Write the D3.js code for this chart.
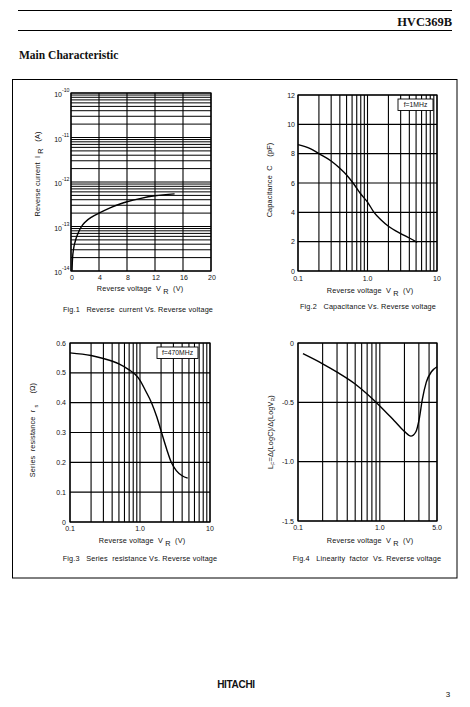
<!DOCTYPE html>
<html><head><meta charset="utf-8">
<script src="https://cdn.jsdelivr.net/npm/d3@7"></script>
<style>
html,body{margin:0;padding:0;background:#fff;}
svg{display:block;}
text{font-family:"Liberation Sans",Arial,sans-serif;fill:#111;}
</style></head>
<body>
<script>
// ---------- data ----------
const fig1V = [0.15, 0.2, 0.35, 0.6, 1.0, 1.5, 2.0, 3.0, 4.0, 5.5, 7.0, 8.0, 10.0, 12.0, 14.8];
const fig1I = [1e-14, 1.7e-14, 3.0e-14, 4.6e-14, 7.0e-14, 1.0e-13, 1.25e-13, 1.65e-13, 2.0e-13, 2.6e-13, 3.2e-13, 3.6e-13, 4.3e-13, 4.9e-13, 5.4e-13];
const fig1XTicks = [0, 4, 8, 12, 16, 20];
const fig1YTicks = [1e-14, 1e-13, 1e-12, 1e-11, 1e-10];
const fig1YExp = ["-14", "-13", "-12", "-11", "-10"];

const fig2V = [0.1, 0.15, 0.2, 0.3, 0.4, 0.5, 0.62, 0.8, 1.0, 1.24, 1.6, 2.0, 3.0, 4.0, 5.2];
const fig2C = [8.62, 8.35, 8.0, 7.5, 7.0, 6.55, 6.0, 5.25, 4.7, 4.0, 3.45, 3.05, 2.55, 2.25, 1.95];
const fig2YTicks = [0, 2, 4, 6, 8, 10, 12];
const fig2XTicks = [0.1, 1, 10];
const fig2XLabels = ["0.1", "1.0", "10"];

const fig3V = [0.1, 0.2, 0.3, 0.5, 0.7, 0.85, 1.0, 1.2, 1.46, 1.75, 2.03, 2.4, 2.8, 3.3, 4.0, 4.8];
const fig3R = [0.567, 0.558, 0.548, 0.53, 0.51, 0.495, 0.475, 0.44, 0.40, 0.35, 0.30, 0.245, 0.20, 0.172, 0.155, 0.147];
const fig3YTicks = [0, 0.1, 0.2, 0.3, 0.4, 0.5, 0.6];
const fig3XTicks = [0.1, 1, 10];
const fig3XLabels = ["0.1", "1.0", "10"];

const fig4V = [0.115, 0.2, 0.3, 0.5, 0.7, 1.0, 1.5, 2.0, 2.4, 2.75, 3.05, 3.3, 3.7, 4.3, 5.0];
const fig4LF = [-0.09, -0.175, -0.245, -0.345, -0.43, -0.53, -0.655, -0.745, -0.785, -0.75, -0.63, -0.48, -0.33, -0.24, -0.2];
const fig4YTicks = [0, -0.5, -1.0, -1.5];
const fig4YLabels = ["0", "-0.5", "-1.0", "-1.5"];
const fig4XTicks = [0.1, 1, 5];
const fig4XLabels = ["0.1", "1.0", "5.0"];

// ---------- page ----------
const W = 470, H = 707;
const svg = d3.select("body").append("svg").attr("width", W).attr("height", H);

svg.append("line").attr("x1", 18).attr("x2", 452).attr("y1", 10.5).attr("y2", 10.5).attr("stroke", "#000").attr("stroke-width", 1);
svg.append("line").attr("x1", 18).attr("x2", 452).attr("y1", 30.5).attr("y2", 30.5).attr("stroke", "#000").attr("stroke-width", 1);
svg.append("text").attr("x", 452).attr("y", 26).attr("text-anchor", "end")
  .style("font-family", "'Liberation Serif','Times New Roman',serif").style("font-weight", "bold").style("font-size", "12.5px").text("HVC369B");
svg.append("text").attr("x", 19).attr("y", 59)
  .style("font-family", "'Liberation Serif','Times New Roman',serif").style("font-weight", "bold").style("font-size", "11.5px").text("Main Characteristic");
svg.append("rect").attr("x", 12.5).attr("y", 79.5).attr("width", 444.5).attr("height", 498.5)
  .attr("fill", "none").attr("stroke", "#000").attr("stroke-width", 1);

svg.append("text").attr("x", 236).attr("y", 688).attr("text-anchor", "middle")
  .style("font-weight", "bold").style("font-size", "10px").style("letter-spacing", "-0.3px").text("HITACHI");
svg.append("text").attr("x", 448).attr("y", 697).attr("text-anchor", "middle").style("font-size", "8px").text("3");

const FS = "7.3px";
const TS = "7px";
const line = (g, x1, y1, x2, y2, w) => g.append("line").attr("x1", x1).attr("y1", y1).attr("x2", x2).attr("y2", y2)
  .attr("stroke", "#000").attr("stroke-width", w || 1);

function logMinor(lo, hi) {
  const out = [];
  for (let d = Math.floor(Math.log10(lo)); d <= Math.ceil(Math.log10(hi)); d++) {
    for (let m = 1; m <= 9; m++) {
      const v = m * Math.pow(10, d);
      if (v >= lo * 0.999 && v <= hi * 1.001) out.push(v);
    }
  }
  return out;
}

function frame(g, L, R, T, B) {
  g.append("rect").attr("x", L).attr("y", T).attr("width", R - L).attr("height", B - T)
    .attr("fill", "none").attr("stroke", "#000").attr("stroke-width", 1.2);
}

function xTitle(g, cx, y) {
  const t = g.append("text").attr("x", cx).attr("y", y).attr("text-anchor", "middle").style("font-size", FS)
    .attr("xml:space", "preserve").style("letter-spacing", "0.15px");
  t.append("tspan").text("Reverse voltage  V ");
  t.append("tspan").attr("dy", 2.5).text("R");
  t.append("tspan").attr("dy", -2.5).text("  (V)");
}
function caption(g, cx, y, s) {
  g.append("text").attr("x", cx).attr("y", y).attr("text-anchor", "middle").style("font-size", FS)
    .style("letter-spacing", "0.15px").attr("xml:space", "preserve").text(s);
}
function yTitle(g, x, cy, parts) {
  const t = g.append("text").attr("transform", `translate(${x},${cy}) rotate(-90)`).attr("text-anchor", "middle").style("font-size", FS)
    .style("letter-spacing", "0.15px").attr("xml:space", "preserve");
  parts.forEach(p => {
    const ts = t.append("tspan").text(p[0]);
    if (p[1]) ts.attr("dy", p[1]);
    if (p[2]) ts.style("font-size", p[2]);
  });
}
function boxLabel(g, xR, yT, s, w) {
  g.append("rect").attr("x", xR - w).attr("y", yT).attr("width", w).attr("height", 11.5)
    .attr("fill", "#fff").attr("stroke", "#000").attr("stroke-width", 0.9);
  g.append("text").attr("x", xR - w / 2).attr("y", yT + 8.3).attr("text-anchor", "middle").style("font-size", "6.8px").text(s);
}
function curve(g, xs, ys, X, Y) {
  const pts = xs.map((v, i) => [X(v), Y(ys[i])]);
  g.append("path").attr("d", d3.line().curve(d3.curveMonotoneX)(pts))
    .attr("fill", "none").attr("stroke", "#000").attr("stroke-width", 1.4);
}

// ---------- Fig 1 ----------
{
  const g = svg.append("g");
  const L = 71, R = 211, T = 93, B = 271;
  const X = d3.scaleLinear().domain([0, 20]).range([L, R]);
  const Y = d3.scaleLog().domain([1e-14, 1e-10]).range([B, T]);
  logMinor(1e-14, 1e-10).forEach(v => line(g, L, Y(v), R, Y(v), 1));
  fig1XTicks.forEach(v => line(g, X(v), T, X(v), B, 1.1));
  frame(g, L, R, T, B);
  fig1XTicks.forEach(v => g.append("text").attr("x", X(v) + 1).attr("y", B + 9).attr("text-anchor", "middle").style("font-size", TS).text(v));
  fig1YTicks.forEach((v, i) => {
    g.append("text").attr("x", L - 9).attr("y", Y(v) + 4).attr("text-anchor", "end").style("font-size", TS).text("10");
    g.append("text").attr("x", L - 9).attr("y", Y(v) - 1).style("font-size", "5.2px").text(fig1YExp[i]);
  });
  curve(g, fig1V, fig1I, X, Y);
  xTitle(g, 140, 291);
  caption(g, 138, 312, "Fig.1   Reverse  current Vs. Reverse voltage");
  yTitle(g, 40, 174, [["Reverse current  I "], ["R", 2.5], ["   (A)", -2.5]]);
}

// ---------- Fig 2 ----------
{
  const g = svg.append("g");
  const L = 298, R = 437, T = 95, B = 271;
  const X = d3.scaleLog().domain([0.1, 10]).range([L, R]);
  const Y = d3.scaleLinear().domain([0, 12]).range([B, T]);
  logMinor(0.1, 10).forEach(v => line(g, X(v), T, X(v), B, 1.1));
  fig2YTicks.forEach(v => line(g, L, Y(v), R, Y(v), 1.1));
  frame(g, L, R, T, B);
  fig2YTicks.forEach(v => g.append("text").attr("x", L - 3).attr("y", Y(v) + 2.5).attr("text-anchor", "end").style("font-size", TS).text(v));
  fig2XTicks.forEach((v, i) => g.append("text").attr("x", X(v)).attr("y", B + 10).attr("text-anchor", "middle").style("font-size", TS).text(fig2XLabels[i]));
  curve(g, fig2V, fig2C, X, Y);
  boxLabel(g, 433, 99, "f=1MHz", 35);
  xTitle(g, 370, 293);
  caption(g, 368, 309, "Fig.2   Capacitance Vs. Reverse voltage");
  yTitle(g, 272, 180, [["Capacitance  C    (pF)"]]);
}

// ---------- Fig 3 ----------
{
  const g = svg.append("g");
  const L = 70, R = 210, T = 343, B = 522;
  const X = d3.scaleLog().domain([0.1, 10]).range([L, R]);
  const Y = d3.scaleLinear().domain([0, 0.6]).range([B, T]);
  logMinor(0.1, 10).forEach(v => line(g, X(v), T, X(v), B, 1.1));
  fig3YTicks.forEach(v => line(g, L, Y(v), R, Y(v), 1.1));
  frame(g, L, R, T, B);
  fig3YTicks.forEach(v => g.append("text").attr("x", L - 4).attr("y", Y(v) + 2.5).attr("text-anchor", "end").style("font-size", TS).text(v === 0 ? "0" : v.toFixed(1)));
  fig3XTicks.forEach((v, i) => g.append("text").attr("x", X(v)).attr("y", B + 9).attr("text-anchor", "middle").style("font-size", TS).text(fig3XLabels[i]));
  curve(g, fig3V, fig3R, X, Y);
  boxLabel(g, 198, 347, "f=470MHz", 41);
  xTitle(g, 142, 543);
  caption(g, 140, 561, "Fig.3   Series  resistance Vs. Reverse voltage");
  yTitle(g, 35, 430, [["Series  resistance  r "], ["s", 2.5, "5.5px"], ["     (Ω)", -2.5]]);
}

// ---------- Fig 4 ----------
{
  const g = svg.append("g");
  const L = 298, R = 437, T = 343, B = 521;
  const X = d3.scaleLog().domain([0.1, 5]).range([L, R]);
  const Y = d3.scaleLinear().domain([-1.5, 0]).range([B, T]);
  logMinor(0.1, 5).forEach(v => line(g, X(v), T, X(v), B, 1.1));
  fig4YTicks.forEach(v => line(g, L, Y(v), R, Y(v), 1.1));
  frame(g, L, R, T, B);
  fig4YTicks.forEach((v, i) => g.append("text").attr("x", L - 4).attr("y", Y(v) + 2.5).attr("text-anchor", "end").style("font-size", TS).text(fig4YLabels[i]));
  fig4XTicks.forEach((v, i) => g.append("text").attr("x", X(v)).attr("y", B + 9).attr("text-anchor", "middle").style("font-size", TS).text(fig4XLabels[i]));
  curve(g, fig4V, fig4LF, X, Y);
  xTitle(g, 370, 543);
  caption(g, 367, 561, "Fig.4   Linearity  factor  Vs. Reverse voltage");
  yTitle(g, 273, 432, [["L"], ["F", 1.5, "5px"], ["=Δ(LogC)/Δ(LogV", -1.5], ["R", 1.5, "5px"], [")", -1.5]]);
}
</script>
</body></html>
